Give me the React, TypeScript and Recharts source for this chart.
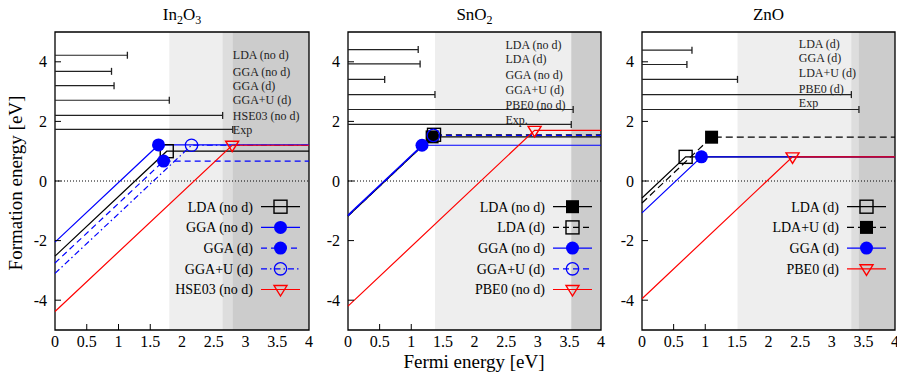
import { ComposedChart, Line, ReferenceArea, ReferenceLine, Scatter, XAxis, YAxis } from 'recharts'

const FONT = '"Liberation Serif", "Times New Roman", serif'
const BLACK = '#000000'
const BLUE = '#0000ff'
const RED = '#ff0000'
const SHADES = ['#eeeeee', '#dddddd', '#cccccc']

const xTicks = [0, 0.5, 1, 1.5, 2, 2.5, 3, 3.5, 4]
const yTicks = [-4, -2, 0, 2, 4]

// In2O3: line start at Ef=0, kink position, plateau level
const in2o3Methods = ['LDA (no d)', 'GGA (no d)', 'GGA (d)', 'GGA+U (d)', 'HSE03 (no d)']
const in2o3Start = [-2.52, -2.05, -2.75, -3.1, -4.38]
const in2o3KinkX = [1.76, 1.63, 1.71, 2.15, 2.79]
const in2o3Level = [1.0, 1.21, 0.67, 1.2, 1.2]
const in2o3GapLabels = ['LDA (no d)', 'GGA (no d)', 'GGA (d)', 'GGA+U (d)', 'HSE03 (no d)', 'Exp']
const in2o3Gaps = [1.14, 0.89, 0.93, 1.8, 2.64, 2.8]
const in2o3GapRows = [4.22, 3.68, 3.2, 2.71, 2.2, 1.73]

// SnO2
const sno2Methods = ['LDA (no d)', 'LDA (d)', 'GGA (no d)', 'GGA+U (d)', 'PBE0 (no d)']
const sno2Start = [-1.18, -1.17, -1.14, -1.17, -4.2]
const sno2KinkX = [1.33, 1.36, 1.17, 1.35, 2.95]
const sno2Level = [1.48, 1.55, 1.2, 1.53, 1.7]
const sno2GapLabels = ['LDA (no d)', 'LDA (d)', 'GGA (no d)', 'GGA+U (d)', 'PBE0 (no d)', 'Exp.']
const sno2Gaps = [1.11, 1.14, 0.58, 1.375, 3.56, 3.53]
const sno2GapRows = [4.41, 3.93, 3.41, 2.9, 2.4, 1.9]

// ZnO
const znoMethods = ['LDA (d)', 'LDA+U (d)', 'GGA (d)', 'PBE0 (d)']
const znoStart = [-0.57, -0.74, -1.07, -3.95]
const znoKinkX = [0.69, 1.1, 0.94, 2.38]
const znoLevel = [0.81, 1.47, 0.81, 0.81]
const znoGapLabels = ['LDA (d)', 'GGA (d)', 'LDA+U (d)', 'PBE0 (d)', 'Exp']
const znoGaps = [0.79, 0.71, 1.51, 3.31, 3.43]
const znoGapRows = [4.39, 3.91, 3.41, 2.9, 2.4]

type MarkerKind = 'openSquare' | 'filledSquare' | 'dot' | 'openCircle' | 'triangle'

const panels = [
  {
    title: <>In<tspan dy={4} fontSize={12}>2</tspan><tspan dy={-4}>O</tspan><tspan dy={4} fontSize={12}>3</tspan></>,
    plotLeft: 55, plotRight: 309,
    methods: in2o3Methods, start: in2o3Start, kinkX: in2o3KinkX, level: in2o3Level,
    colors: [BLACK, BLUE, BLUE, BLUE, RED],
    dashes: ['', '', '6 4', '6 3 1.5 3', ''],
    markers: ['openSquare', 'dot', 'dot', 'openCircle', 'triangle'] as MarkerKind[],
    gapLabels: in2o3GapLabels, gaps: in2o3Gaps, rows: in2o3GapRows,
    labelX: 2.8, labelShift: 0,
    shade: [in2o3Gaps[3], in2o3Gaps[4], in2o3Gaps[5]],
  },
  {
    title: <>SnO<tspan dy={4} fontSize={12}>2</tspan></>,
    plotLeft: 348, plotRight: 601,
    methods: sno2Methods, start: sno2Start, kinkX: sno2KinkX, level: sno2Level,
    colors: [BLACK, BLACK, BLUE, BLUE, RED],
    dashes: ['', '6 4', '', '6 4', ''],
    markers: ['filledSquare', 'openSquare', 'dot', 'openCircle', 'triangle'] as MarkerKind[],
    gapLabels: sno2GapLabels, gaps: sno2Gaps, rows: sno2GapRows,
    labelX: 2.49, labelShift: 0.17,
    shade: [sno2Gaps[3], sno2Gaps[4], sno2Gaps[5]],
  },
  {
    title: <>ZnO</>,
    plotLeft: 642, plotRight: 895,
    methods: znoMethods, start: znoStart, kinkX: znoKinkX, level: znoLevel,
    colors: [BLACK, BLACK, BLUE, RED],
    dashes: ['', '7 4', '', ''],
    markers: ['openSquare', 'filledSquare', 'dot', 'triangle'] as MarkerKind[],
    gapLabels: znoGapLabels, gaps: znoGaps, rows: znoGapRows,
    labelX: 2.48, labelShift: 0.21,
    shade: [znoGaps[2], znoGaps[3], znoGaps[4]],
  },
]

type Panel = (typeof panels)[number]

const HEIGHT = 375
const Y_AXIS_W = 55
const RIGHT_PAD = 12

function Marker({ kind, cx, cy, color }: { kind: MarkerKind; cx: number; cy: number; color: string }) {
  const s = 6.5
  if (kind === 'openSquare')
    return <rect x={cx - s} y={cy - s} width={2 * s} height={2 * s} fill="none" stroke={color} strokeWidth={1.4} />
  if (kind === 'filledSquare')
    return <rect x={cx - s} y={cy - s} width={2 * s} height={2 * s} fill={color} />
  if (kind === 'dot') return <circle cx={cx} cy={cy} r={6.5} fill={color} />
  if (kind === 'openCircle') return <circle cx={cx} cy={cy} r={6.2} fill="none" stroke={color} strokeWidth={1.3} />
  return (
    <polygon
      points={`${cx - 6.5},${cy - 4} ${cx + 6.5},${cy - 4} ${cx},${cy + 6.5}`}
      fill="none"
      stroke={color}
      strokeWidth={1.4}
    />
  )
}

function PanelChart({ p }: { p: Panel }) {
  const plotW = p.plotRight - p.plotLeft
  const width = Y_AXIS_W + plotW + RIGHT_PAD
  const hideFrom = p.shade[0] - 0.03

  const caps = p.gaps.map((g, i) => ({ x: g, y: p.rows[i] }))
  const labels = p.gapLabels.map((name, i) => ({ x: p.labelX, y: p.rows[i] + p.labelShift, name }))

  return (
    <div style={{ position: 'absolute', left: p.plotLeft - Y_AXIS_W, top: 0 }}>
      <ComposedChart width={width} height={HEIGHT} margin={{ top: 32, right: RIGHT_PAD, bottom: 0, left: 0 }}>
        <XAxis
          type="number"
          dataKey="x"
          domain={[0, 4]}
          ticks={xTicks}
          interval={0}
          height={45}
          tickSize={0}
          tickMargin={6}
          axisLine={false}
          tickLine={false}
          tick={(t: any) => (
            <g>
              {t.payload.value > 0 && t.payload.value < hideFrom && (
                <line x1={t.x} x2={t.x} y1={t.y - 6} y2={t.y - 12} stroke={BLACK} />
              )}
              <text x={t.x} y={t.y} dy="0.71em" textAnchor="middle" fontSize={16} fontFamily={FONT} fill={BLACK}>
                {t.payload.value}
              </text>
            </g>
          )}
        />
        <XAxis
          xAxisId="top"
          orientation="top"
          type="number"
          domain={[0, 4]}
          ticks={xTicks}
          interval={0}
          height={0}
          tickSize={0}
          tickMargin={0}
          axisLine={false}
          tickLine={false}
          tick={(t: any) =>
            t.payload.value > 0 && t.payload.value < hideFrom ? (
              <line x1={t.x} x2={t.x} y1={t.y} y2={t.y + 6} stroke={BLACK} />
            ) : (
              <g />
            )
          }
        />
        <YAxis
          type="number"
          dataKey="y"
          domain={[-5, 5]}
          ticks={yTicks}
          interval={0}
          width={Y_AXIS_W}
          tickSize={0}
          tickMargin={8}
          axisLine={false}
          tickLine={false}
          tick={(t: any) => (
            <g>
              <line x1={t.x + 8} x2={t.x + 14} y1={t.y} y2={t.y} stroke={BLACK} />
              <text x={t.x} y={t.y} dy="0.35em" textAnchor="end" fontSize={16} fontFamily={FONT} fill={BLACK}>
                {t.payload.value}
              </text>
            </g>
          )}
        />

        {p.shade.map((from, i) => (
          <ReferenceArea key={`s${i}`} x1={from} x2={4} y1={-5} y2={5} fill={SHADES[i]} fillOpacity={1} stroke="none" />
        ))}

        <ReferenceLine y={0} stroke={BLACK} strokeWidth={1} strokeDasharray="1 2" />

        {p.gaps.map((g, i) => (
          <ReferenceLine
            key={`g${i}`}
            segment={[{ x: 0, y: p.rows[i] }, { x: g, y: p.rows[i] }]}
            stroke="#222"
            strokeWidth={1.2}
          />
        ))}

        {p.methods.map((m, i) => (
          <Line
            key={m}
            name={m}
            data={[
              { x: 0, y: p.start[i] },
              { x: p.kinkX[i], y: p.level[i] },
              { x: 4, y: p.level[i] },
            ]}
            dataKey="y"
            stroke={p.colors[i]}
            strokeWidth={1.2}
            strokeDasharray={p.dashes[i] || undefined}
            dot={(d: any) =>
              d.index === 1 ? (
                <Marker key={`m${i}`} kind={p.markers[i]} cx={d.cx} cy={d.cy} color={p.colors[i]} />
              ) : (
                <g key={`n${i}-${d.index}`} />
              )
            }
            activeDot={false}
            isAnimationActive={false}
          />
        ))}

        <Scatter
          data={caps}
          isAnimationActive={false}
          shape={(s: any) => <line x1={s.cx} x2={s.cx} y1={s.cy - 3.5} y2={s.cy + 3.5} stroke="#222" strokeWidth={1.3} />}
        />
        <Scatter
          data={labels}
          isAnimationActive={false}
          shape={(s: any) => (
            <text x={s.cx} y={s.cy} dy="0.35em" fontSize={12} fontFamily={FONT} fill="#222">
              {s.payload.name}
            </text>
          )}
        />

        <ReferenceArea x1={0} x2={4} y1={-5} y2={5} fill="none" stroke={BLACK} strokeWidth={1.3} />
      </ComposedChart>
    </div>
  )
}

function Overlay() {
  return (
    <svg width={897} height={HEIGHT} style={{ position: 'absolute', left: 0, top: 0, pointerEvents: 'none' }}>
      {panels.map((p, pi) => (
        <g key={pi}>
          <text x={(p.plotLeft + p.plotRight) / 2} y={20} textAnchor="middle" fontSize={17} fontFamily={FONT}>
            {p.title}
          </text>
          {p.methods.map((m, i) => {
            const y = 206.7 + i * 20.7
            const x1 = p.plotRight - 48
            const x2 = p.plotRight - 9
            return (
              <g key={m}>
                <text x={p.plotRight - 56} y={y} dy="0.35em" textAnchor="end" fontSize={14} fontFamily={FONT}>
                  {m}
                </text>
                <line
                  x1={x1}
                  x2={x2}
                  y1={y}
                  y2={y}
                  stroke={p.colors[i]}
                  strokeWidth={1.2}
                  strokeDasharray={p.dashes[i] || undefined}
                />
                <Marker kind={p.markers[i]} cx={(x1 + x2) / 2} cy={y} color={p.colors[i]} />
              </g>
            )
          })}
        </g>
      ))}
      <text x={474} y={368} textAnchor="middle" fontSize={19} fontFamily={FONT}>
        Fermi energy [eV]
      </text>
      <text transform="translate(22,183) rotate(-90)" textAnchor="middle" fontSize={19} fontFamily={FONT}>
        Formation energy [eV]
      </text>
    </svg>
  )
}

export default function App() {
  return (
    <div style={{ position: 'absolute', left: 0, top: 0, width: 897, height: HEIGHT, overflow: 'hidden', background: '#fff' }}>
      {panels.map((p, i) => (
        <PanelChart key={i} p={p} />
      ))}
      <Overlay />
    </div>
  )
}
